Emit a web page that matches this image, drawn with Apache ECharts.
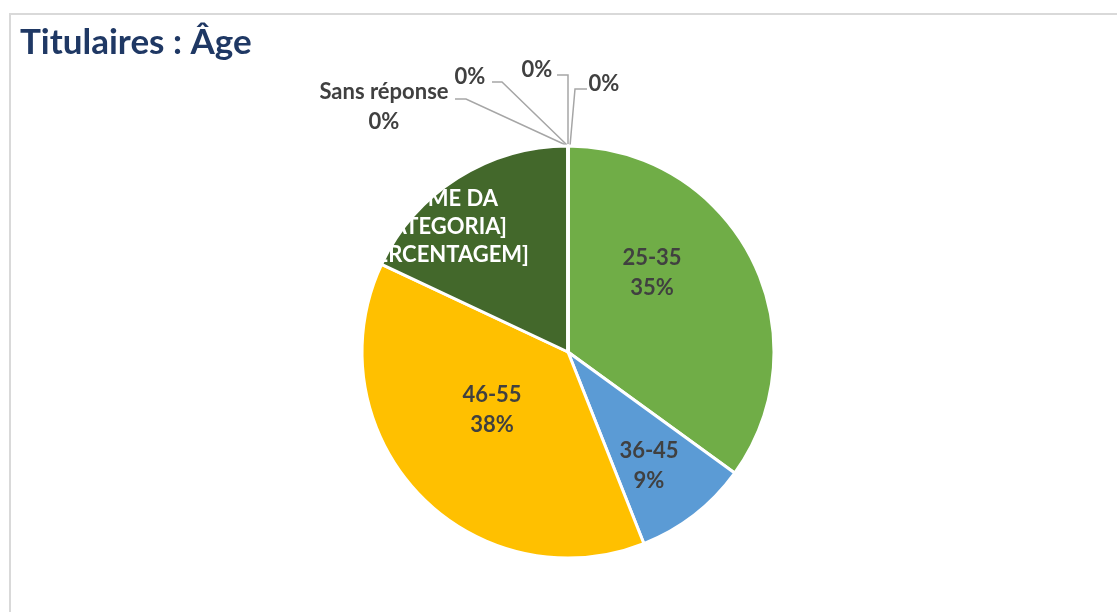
<!DOCTYPE html>
<html>
<head>
<meta charset="utf-8">
<script src="https://cdn.jsdelivr.net/npm/echarts@6/dist/echarts.min.js"></script>
<style>
  html, body { margin: 0; padding: 0; background: #fff; overflow: hidden; }
  #frame { position: absolute; left: 9px; top: 13px; width: 1200px; height: 700px; border-top: 2px solid #D9D9D9; border-left: 2px solid #D9D9D9; }
  #chart { position: absolute; left: 0; top: 0; width: 1117px; height: 612px; }
</style>
</head>
<body>
<div id="frame"></div>
<div id="chart"></div>
<script>
// ---- data ----
const chartTitle = 'Titulaires : Âge';
const categories = ['25-35', '36-45', '46-55', '[NOME DA CATEGORIA]', 'Sans réponse', '', '', ''];
const values = [35, 9, 38, 18, 0, 0, 0, 0];
const colors = ['#70AD47', '#5B9BD5', '#FFC000', '#43682B', '#A5A5A5', '#264478', '#9E480E', '#636363'];
const placeholderLabel = '[NOME DA\nCATEGORIA]\n[PERCENTAGEM]';

// ---- layout (positions / styles) ----
const cx = 568, cy = 352, R = 206;
const FONT = 'Lato, "Open Sans", sans-serif';
// label anchor positions (text centres)
const labelPos = [
  [652, 273], [649, 466], [492, 410], [442, 227],
  [384, 107], [470, 77], [537, 70], [604, 84]
];
// leader line elbows for the small slices: [start, elbow]
const leaderPts = {
  4: [[455, 99], [466, 99]],
  5: [[492, 82], [502, 82]],
  6: [[557, 75], [568, 75]],
  7: [[587, 89], [575, 89]]
};

const chart = echarts.init(document.getElementById('chart'), null, { renderer: 'canvas' });

const data = categories.map((name, i) => {
  const item = { name: name || ('_' + i), value: values[i], itemStyle: { color: colors[i] } };
  if (i === 3) {
    item.label = { color: '#FFFFFF', lineHeight: 28 };
  }
  if (i >= 4) {
    item.label = { position: 'outside' };
    item.labelLine = { show: true };
  }
  return item;
});

chart.setOption({
  animation: false,
  title: {
    text: chartTitle,
    left: 15,
    top: 18,
    textStyle: { fontFamily: FONT, fontSize: 35, fontWeight: 'bold', color: '#1F3864', lineHeight: 40 }
  },
  series: [{
    type: 'pie',
    center: [cx, cy],
    radius: [0, R],
    startAngle: 90,
    clockwise: true,
    avoidLabelOverlap: false,
    minShowLabelAngle: 0,
    itemStyle: { borderColor: '#FFFFFF', borderWidth: 3 },
    label: {
      show: true,
      position: 'inside',
      fontFamily: FONT,
      fontSize: 22,
      fontWeight: 'bold',
      color: '#404040',
      lineHeight: 30,
      textBorderWidth: 0,
      align: 'center',
      formatter: function (p) {
        if (p.dataIndex === 3) return placeholderLabel;
        const pct = Math.round(p.percent) + '%';
        const nm = categories[p.dataIndex];
        return nm ? nm + '\n' + pct : pct;
      }
    },
    labelLine: {
      show: false,
      lineStyle: { color: '#A6A6A6', width: 1.5 }
    },
    emphasis: { disabled: true },
    labelLayout: function (params) {
      const i = params.dataIndex;
      const pos = labelPos[i];
      const res = { x: pos[0], y: pos[1], align: 'center', verticalAlign: 'middle' };
      if (leaderPts[i]) {
        const pts = leaderPts[i];
        res.labelLinePoints = [[cx + (i === 7 ? 2 : 0), cy - R], pts[1], pts[0]].reverse();
      }
      return res;
    },
    data: data
  }]
});
</script>
</body>
</html>
